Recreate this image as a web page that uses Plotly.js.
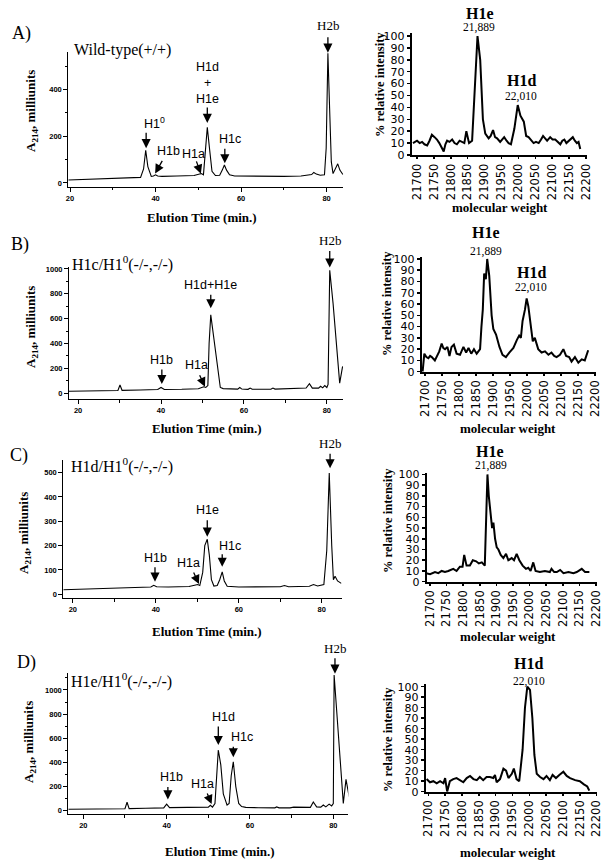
<!DOCTYPE html>
<html><head><meta charset="utf-8">
<script src="https://cdn.plot.ly/plotly-3.0.1.min.js"></script>
<style>html,body{margin:0;padding:0;background:#fff}#chart{width:610px;height:867px}</style>
</head><body><div id="chart"></div>
<script>
// ---------- DATA ----------
// Chromatograms: elution time (min) vs A214 (milliunits)
const chromA_t = [19.6,25,30,35,36.5,37.2,37.7,38.2,39,39.5,40,40.5,41.5,45,49,50.3,50.7,51.2,51.6,52.1,52.6,53.2,54,55,55.6,56.1,56.6,57.3,58.5,62,66,70,74,76.5,77,77.6,78.5,79.5,79.9,80.3,80.7,81.1,81.5,82,82.6,83.1,83.8];
const chromA_a = [13,16,18,22,24,60,140,70,28,30,35,30,28,30,32,38,40,35,120,238,150,50,32,33,55,77,55,35,30,29,28,28,30,36,45,38,33,35,150,555,320,90,40,60,82,55,36];

const chromB_t = [17.8,25,29.6,30.1,30.6,35,39.2,40,40.8,45,49,50.3,50.8,51.3,51.6,52.0,52.6,53.2,53.8,54.3,55,58.5,59,59.5,61,61.5,62,66.5,67,67.5,75,75.8,76.5,78,78.5,79,79.5,80,80.3,80.7,81.5,82.3,83.1,83.8];
const chromB_a = [14,18,20,65,22,24,28,45,28,30,35,50,45,60,400,630,470,330,150,45,36,32,45,32,30,40,30,30,40,32,40,75,40,40,55,42,60,45,70,990,725,420,80,215];

const chromC_t = [17.7,25,30,35,38.8,39.5,40.2,43,48,49.6,50.1,50.6,51.3,51.8,52.4,52.9,53.4,54,54.8,55.4,56.0,56.5,57.2,60,65,70,71,72,77,78,79,80.5,81.2,81.8,82.4,82.8,83.2,83.8,84.7];
const chromC_a = [19,22,25,28,30,37,31,30,32,38,40,36,90,200,226,160,60,34,36,60,92,55,33,30,31,31,36,31,33,40,34,40,180,499,200,60,74,55,45];

const chromD_t = [16.4,25,30,30.5,31,35,39.3,40,40.7,45,50,50.5,51,51.6,52.0,52.4,53.0,53.6,54.5,55.0,55.5,56.0,56.6,57.3,58,58.5,59,62,66,66.4,67,69.6,70.5,74.5,75.2,76,77,77.6,78.2,79.0,79.6,80.0,80.2,82.4,83.05,83.8];
const chromD_a = [12,15,17,70,18,20,24,55,26,28,30,45,30,60,300,503,380,140,47,60,290,406,200,60,35,32,28,25,24,32,24,24,30,28,72,32,30,47,32,55,40,60,1124,61,260,116];

// Mass spectra: molecular weight vs % relative intensity
const msA_m = [21688,21700,21708,21715,21722,21730,21737,21744,21752,21759,21766,21774,21779,21784,21789,21796,21804,21811,21818,21826,21833,21840,21846,21854,21863,21871,21879,21887,21895,21902,21912,21918,21925,21931,21937,21946,21952,21958,21965,21971,21978,21988,21998,22006,22016,22023,22030,22035,22045,22052,22060,22067,22073,22079,22085,22094,22101,22109,22116,22124,22130,22136,22142,22149,22155,22161,22167,22173,22178,22183];
const msA_i = [10,12,10,11,9,8,12,17,15,13,10,6,3,9,12,11,13,10,9,12,11,10,20,10,12,60,100,80,30,18,14,16,21,15,14,11,13,15,12,10,9,22,42,33,28,16,15,13,10,11,10,13,16,14,12,15,13,13,11,9,12,13,10,12,13,15,12,10,11,5];

const msB_m = [21693,21698,21704,21710,21715,21720,21729,21736,21742,21749,21754,21759,21766,21772,21778,21785,21793,21803,21813,21821,21828,21836,21844,21852,21862,21866,21870,21874,21879,21883,21889,21896,21901,21909,21919,21928,21938,21948,21960,21970,21977,21982,21987,21994,21999,22004,22011,22017,22023,22033,22043,22053,22063,22072,22080,22087,22097,22107,22115,22124,22131,22141,22151,22161,22170,22180];
const msB_i = [0,16,13,12,14,13,10,14,18,25,21,20,22,14,22,24,16,15,22,17,21,16,20,16,20,40,55,87,82,100,85,50,38,33,22,15,13,17,21,28,32,30,45,55,65,58,40,27,30,20,17,18,15,17,14,13,15,20,14,13,9,13,8,11,10,19];

const msC_m = [21688,21700,21715,21725,21735,21745,21755,21763,21770,21780,21790,21798,21803,21810,21820,21829,21839,21847,21856,21865,21869,21873,21877,21883,21887,21891,21896,21901,21906,21913,21921,21929,21936,21946,21953,21961,21969,21979,21989,21996,22003,22011,22018,22031,22046,22061,22066,22074,22082,22092,22102,22117,22132,22142,22157,22167,22180];
const msC_i = [8,7,9,8,10,9,10,11,12,10,14,14,25,15,15,20,19,17,18,15,50,100,80,60,50,55,40,32,30,25,22,26,20,22,20,26,20,15,12,13,10,18,10,9,10,9,12,9,9,11,8,9,8,9,12,9,9];

const msD_m = [21695,21705,21715,21725,21735,21745,21750,21756,21764,21774,21784,21794,21804,21814,21824,21834,21844,21853,21863,21873,21883,21893,21898,21903,21913,21923,21931,21938,21948,21954,21962,21970,21980,21987,21994,22002,22009,22015,22022,22032,22042,22051,22061,22069,22079,22089,22101,22111,22121,22136,22150,22162,22172,22178];
const msD_i = [12,9,10,8,10,8,13,0,10,12,13,11,9,13,15,12,11,14,11,14,14,13,16,9,12,22,20,13,17,22,12,10,40,80,100,97,70,35,17,14,12,15,11,16,13,16,19,15,13,11,10,7,5,1];

// Tick settings
const chromXTicks = {tick0:0, dtick:20};
const msXTicks = {tick0:21700, dtick:50};

// ---------- LAYOUT HELPERS ----------
const W = 610, H = 867;
const SERIF = 'Liberation Serif, Times New Roman, serif';
const SANS = 'Liberation Sans, Arial, sans-serif';
const DJ = 'DejaVu Sans, Verdana, sans-serif';
const dx = (a,b) => [a/W, b/W];
const dy = (top,bottom) => [1-bottom/H, 1-top/H];

function chromX(dom, range, anchor){
  return {domain:dx(dom[0],dom[1]), range, anchor, showline:true, linecolor:'#000', linewidth:1,
    ticks:'outside', ticklen:4, tickwidth:1, tickcolor:'#000', tick0:chromXTicks.tick0, dtick:chromXTicks.dtick,
    tickfont:{family:SANS, size:7.5, color:'#000', weight:'bold'},
    minor:{ticks:'outside', ticklen:2.5, dtick:10, tickcolor:'#000', tickwidth:1},
    showgrid:false, zeroline:false, fixedrange:true};
}
function chromY(dom, range, anchor, dt, mdt){
  const o = {domain:dy(dom[0],dom[1]), range, anchor, showline:true, linecolor:'#000', linewidth:1,
    ticks:'outside', ticklen:4, tickwidth:1, tickcolor:'#000', tick0:0, dtick:dt,
    tickfont:{family:SANS, size:7.5, color:'#000', weight:'bold'},
    showgrid:false, zeroline:false, fixedrange:true};
  if(mdt) o.minor = {ticks:'outside', ticklen:2.5, dtick:mdt, tickcolor:'#000', tickwidth:1};
  return o;
}
function msX(dom, range, anchor){
  return {domain:dx(dom[0],dom[1]), range, anchor, showline:true, linecolor:'#000', linewidth:2,
    ticks:'outside', ticklen:2, tickwidth:1.5, tickcolor:'#000', tick0:msXTicks.tick0, dtick:msXTicks.dtick,
    tickformat:'d', tickangle:-90, tickfont:{family:DJ, size:11.5, color:'#000'},
    showgrid:false, zeroline:false, fixedrange:true};
}
function msY(dom, range, anchor){
  return {domain:dy(dom[0],dom[1]), range, anchor, showline:true, linecolor:'#000', linewidth:2,
    ticks:'outside', ticklen:3, tickwidth:1.5, tickcolor:'#000', tick0:0, dtick:10,
    tickfont:{family:DJ, size:11, color:'#000'},
    showgrid:false, zeroline:false, fixedrange:true};
}

function line(x,y,xa,ya,w){
  return {x, y, xaxis:xa, yaxis:ya, type:'scatter', mode:'lines', line:{color:'#000', width:w, shape:'linear'}, hoverinfo:'skip', showlegend:false};
}

const data = [
  line(chromA_t, chromA_a, 'x', 'y', 1.1),
  line(msA_m, msA_i, 'x2', 'y2', 2),
  line(chromB_t, chromB_a, 'x3', 'y3', 1.1),
  line(msB_m, msB_i, 'x4', 'y4', 2),
  line(chromC_t, chromC_a, 'x5', 'y5', 1.1),
  line(msC_m, msC_i, 'x6', 'y6', 2),
  line(chromD_t, chromD_a, 'x7', 'y7', 1.1),
  line(msD_m, msD_i, 'x8', 'y8', 2)
];

// ---------- ANNOTATIONS ----------
const ann = [];
function txt(s, px, py, size, family, opts){
  ann.push(Object.assign({xref:'paper', yref:'paper', x:px/W, y:1-py/H, text:s, showarrow:false,
    xanchor:'center', yanchor:'middle', font:{family, size, color:'#000'}}, opts||{}));
}
function arrow(xr, yr, x, y, ax, ay){
  ann.push({xref:xr, yref:yr, x, y, ax, ay, axref:'pixel', ayref:'pixel', text:'', showarrow:true,
    arrowhead:2, arrowsize:1.4, arrowwidth:1.3, arrowcolor:'#000', standoff:0});
}

// Panel A
txt('A)', 21, 34, 18, SERIF);
txt('Wild-type(+/+)', 122, 50, 16, SERIF);
txt('H1<sup>0</sup>', 154, 123, 12.5, SANS); arrow('x','y',37.8,149,0,-17);
txt('H1b', 168, 151, 12.5, SANS); arrow('x','y',39.9,41,8,-14);
txt('H1a', 193, 154, 12.5, SANS); arrow('x','y',50.6,39,-5,-14);
txt('H1d', 207, 67, 12.5, SANS); txt('+', 207, 83, 12.5, SANS); txt('H1e', 207, 99, 12.5, SANS);
arrow('x','y',52.1,257,0,-17);
txt('H1c', 230, 139, 12.5, SANS); arrow('x','y',56.2,84,0,-16);
txt('H2b', 328, 25, 13, SERIF); arrow('x','y',80.3,558,0,-17);

// Panel B
txt('B)', 20, 245, 18, SERIF);
txt('H1c/H1<sup>0</sup>(-/-,-/-)', 122, 263, 16, SERIF);
txt('H2b', 330, 240, 13, SERIF); arrow('x3','y3',80.7,1012,0,-18);
txt('H1d+H1e', 211, 285, 12.5, SANS); arrow('x3','y3',52.0,683,0,-15);
txt('H1b', 162, 360, 12.5, SANS); arrow('x3','y3',40.2,73,0,-16);
txt('H1a', 196, 365, 12.5, SANS); arrow('x3','y3',50.6,51,-6,-13);

// Panel C
txt('C)', 19, 455, 18, SERIF);
txt('H1d/H1<sup>0</sup>(-/-,-/-)', 122, 465, 16, SERIF);
txt('H2b', 330, 443, 13, SERIF); arrow('x5','y5',82.0,518,0,-16);
txt('H1e', 207, 510, 12.5, SANS); arrow('x5','y5',52.4,237,0,-18);
txt('H1c', 230, 546, 12.5, SANS); arrow('x5','y5',56.0,113,0,-14);
txt('H1b', 155, 558, 12.5, SANS); arrow('x5','y5',39.8,52,0,-16);
txt('H1a', 188, 563, 12.5, SANS); arrow('x5','y5',50.4,42,-6,-13);

// Panel D
txt('D)', 26, 662, 18, SERIF);
txt('H1e/H1<sup>0</sup>(-/-,-/-)', 121, 680, 16, SERIF);
txt('H2b', 335, 648, 13, SERIF); arrow('x7','y7',80.4,1135,0,-17);
txt('H1d', 223, 717, 12.5, SANS); arrow('x7','y7',52.4,544,0,-20);
txt('H1c', 242, 737, 12.5, SANS); arrow('x7','y7',56.0,442,0,-12);
txt('H1b', 171, 777, 12.5, SANS); arrow('x7','y7',40.3,94,0,-14);
txt('H1a', 202, 784, 12.5, SANS); arrow('x7','y7',50.8,55,-5,-12);

// Axis titles
const chromYT = 'A<sub>214</sub>, milliunits';
const msYT = '% relative intensity';
[[32,111],[31,327],[24,533],[29,742]].forEach(p => txt('<b>'+chromYT+'</b>', p[0], p[1], 13, SERIF, {textangle:-90}));
[[380,85],[387,304],[388,521],[388,740]].forEach(p => txt('<b>'+msYT+'</b>', p[0], p[1], 12.5, SERIF, {textangle:-90}));
[[202,218],[207,428],[207,631],[220,851]].forEach(p => txt('<b>Elution Time (min.)</b>', p[0], p[1], 13, SERIF));
[[500,207],[508,428],[508,636],[508,852]].forEach(p => txt('<b>molecular weight</b>', p[0], p[1], 13, SERIF));

// MS peak titles
txt('<b>H1e</b>', 480, 13, 16, SERIF); txt('21,889', 479, 27, 11.5, SERIF);
txt('<b>H1d</b>', 521, 80, 16, SERIF); txt('22,010', 521, 96, 11.5, SERIF);
txt('<b>H1e</b>', 486, 233, 16, SERIF); txt('21,889', 486, 251, 11.5, SERIF);
txt('<b>H1d</b>', 531, 272, 16, SERIF); txt('22,010', 531, 287, 11.5, SERIF);
txt('<b>H1e</b>', 490, 451, 16, SERIF); txt('21,889', 491, 466, 11.5, SERIF);
txt('<b>H1d</b>', 528, 663, 16, SERIF); txt('22,010', 529, 681, 11.5, SERIF);

const layout = {
  width:W, height:H, margin:{l:0,r:0,t:0,b:0}, paper_bgcolor:'#fff', plot_bgcolor:'rgba(0,0,0,0)',
  showlegend:false, annotations:ann,
  xaxis: chromX([68.3,343.3],[19.6,83.9],'y'),
  yaxis: chromY([51.7,186.7],[-16,562],'x',200,100),
  xaxis2: msX([411.7,586.5],[21684.3,22201.5],'y2'),
  yaxis2: msY([33.3,155],[0,102.3],'x2'),
  xaxis3: chromX([69,343],[17.8,83.9],'y3'),
  yaxis3: chromY([267,399],[-48,1016],'x3',200,100),
  xaxis4: msX([421.7,595.5],[21690.3,22201.5],'y4'),
  yaxis4: msY([256.7,371.7],[0,102],'x4'),
  xaxis5: chromX([63.3,341.7],[17.7,84.8],'y5'),
  yaxis5: chromY([460,598.3],[-16.4,552],'x5',100,null),
  xaxis6: msX([426.7,596.5],[21690,22201.5],'y6'),
  yaxis6: msY([472.7,581.7],[0,101.6],'x6'),
  xaxis7: chromX([68.3,348.3],[16.4,83.6],'y7'),
  yaxis7: chromY([673.3,814],[-27,1138],'x7',200,100),
  xaxis8: msX([425.7,597.2],[21692.3,22201.5],'y8'),
  yaxis8: msY([684.3,791.7],[0,102.3],'x8')
};

Plotly.newPlot('chart', data, layout, {staticPlot:true, displayModeBar:false});
</script></body></html>
